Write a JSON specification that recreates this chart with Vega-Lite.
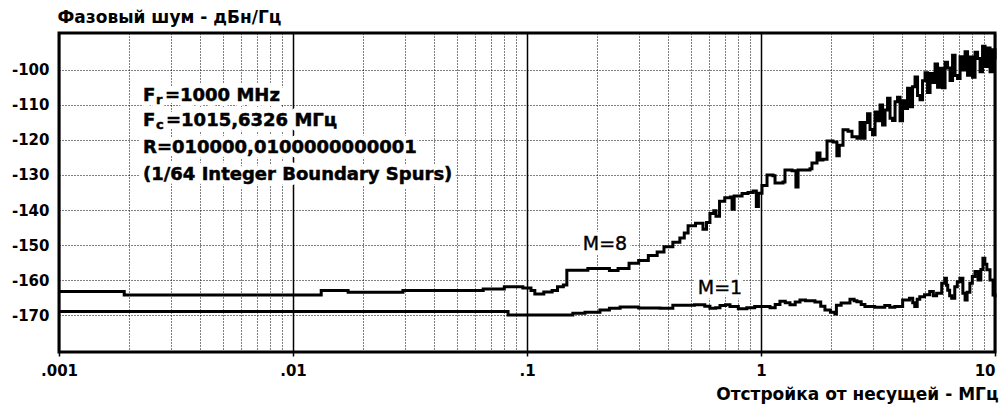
{
  "$schema": "https://vega.github.io/schema/vega-lite/v6.json",
  "width": 936,
  "height": 319,
  "autosize": {"type": "none"},
  "padding": {"left": 59, "top": 33, "right": 8, "bottom": 55},
  "background": "white",
  "config": {"view": {"stroke": "#000", "strokeWidth": 3}, "font": "DejaVu Sans"},
  "datasets": {
    "curves": [
      {"s": "M8", "f": 0.001, "db": -163.3},
      {"s": "M8", "f": 0.0019, "db": -164.3},
      {"s": "M8", "f": 0.0132, "db": -163.0},
      {"s": "M8", "f": 0.0172, "db": -163.5},
      {"s": "M8", "f": 0.0295, "db": -163.0},
      {"s": "M8", "f": 0.065, "db": -162.6},
      {"s": "M8", "f": 0.08, "db": -161.9},
      {"s": "M8", "f": 0.096, "db": -162.3},
      {"s": "M8", "f": 0.104, "db": -163.0},
      {"s": "M8", "f": 0.108, "db": -164.0},
      {"s": "M8", "f": 0.118, "db": -163.4},
      {"s": "M8", "f": 0.128, "db": -163.0},
      {"s": "M8", "f": 0.135, "db": -161.9},
      {"s": "M8", "f": 0.143, "db": -161.4},
      {"s": "M8", "f": 0.148, "db": -157.2},
      {"s": "M8", "f": 0.182, "db": -156.7},
      {"s": "M8", "f": 0.225, "db": -157.3},
      {"s": "M8", "f": 0.245, "db": -156.7},
      {"s": "M8", "f": 0.273, "db": -155.2},
      {"s": "M8", "f": 0.3, "db": -154.4},
      {"s": "M8", "f": 0.33, "db": -153.0},
      {"s": "M8", "f": 0.36, "db": -152.0},
      {"s": "M8", "f": 0.385, "db": -150.5},
      {"s": "M8", "f": 0.42, "db": -149.2},
      {"s": "M8", "f": 0.45, "db": -148.0},
      {"s": "M8", "f": 0.47, "db": -146.6},
      {"s": "M8", "f": 0.488, "db": -144.5},
      {"s": "M8", "f": 0.525, "db": -143.8},
      {"s": "M8", "f": 0.565, "db": -145.5},
      {"s": "M8", "f": 0.585, "db": -143.6},
      {"s": "M8", "f": 0.605, "db": -141.0},
      {"s": "M8", "f": 0.628, "db": -140.2},
      {"s": "M8", "f": 0.642, "db": -141.8},
      {"s": "M8", "f": 0.665, "db": -137.5},
      {"s": "M8", "f": 0.7, "db": -136.5},
      {"s": "M8", "f": 0.74, "db": -136.3},
      {"s": "M8", "f": 0.752, "db": -139.8},
      {"s": "M8", "f": 0.768, "db": -136.0},
      {"s": "M8", "f": 0.83, "db": -135.3},
      {"s": "M8", "f": 0.88, "db": -135.0},
      {"s": "M8", "f": 0.925, "db": -134.6},
      {"s": "M8", "f": 0.955, "db": -139.0},
      {"s": "M8", "f": 0.975, "db": -135.2},
      {"s": "M8", "f": 1.01, "db": -133.0},
      {"s": "M8", "f": 1.061, "db": -130.0},
      {"s": "M8", "f": 1.125, "db": -130.2},
      {"s": "M8", "f": 1.148, "db": -132.3},
      {"s": "M8", "f": 1.242, "db": -132.0},
      {"s": "M8", "f": 1.266, "db": -128.6},
      {"s": "M8", "f": 1.357, "db": -128.8},
      {"s": "M8", "f": 1.41, "db": -133.4},
      {"s": "M8", "f": 1.44, "db": -128.6},
      {"s": "M8", "f": 1.62, "db": -128.2},
      {"s": "M8", "f": 1.651, "db": -126.6},
      {"s": "M8", "f": 1.735, "db": -123.7},
      {"s": "M8", "f": 1.787, "db": -125.7},
      {"s": "M8", "f": 1.84, "db": -125.5},
      {"s": "M8", "f": 1.915, "db": -120.3},
      {"s": "M8", "f": 2.031, "db": -120.6},
      {"s": "M8", "f": 2.11, "db": -124.5},
      {"s": "M8", "f": 2.16, "db": -121.5},
      {"s": "M8", "f": 2.241, "db": -117.1},
      {"s": "M8", "f": 2.354, "db": -117.5},
      {"s": "M8", "f": 2.448, "db": -119.1},
      {"s": "M8", "f": 2.572, "db": -119.5},
      {"s": "M8", "f": 2.65, "db": -115.0},
      {"s": "M8", "f": 2.716, "db": -119.5},
      {"s": "M8", "f": 2.784, "db": -115.0},
      {"s": "M8", "f": 2.853, "db": -112.5},
      {"s": "M8", "f": 2.924, "db": -117.0},
      {"s": "M8", "f": 2.997, "db": -118.5},
      {"s": "M8", "f": 3.072, "db": -112.0},
      {"s": "M8", "f": 3.148, "db": -114.5},
      {"s": "M8", "f": 3.227, "db": -110.0},
      {"s": "M8", "f": 3.307, "db": -115.7},
      {"s": "M8", "f": 3.389, "db": -111.4},
      {"s": "M8", "f": 3.474, "db": -108.1},
      {"s": "M8", "f": 3.56, "db": -113.8},
      {"s": "M8", "f": 3.649, "db": -114.4},
      {"s": "M8", "f": 3.74, "db": -109.1},
      {"s": "M8", "f": 3.833, "db": -107.8},
      {"s": "M8", "f": 3.929, "db": -114.5},
      {"s": "M8", "f": 4.026, "db": -108.8},
      {"s": "M8", "f": 4.127, "db": -111.0},
      {"s": "M8", "f": 4.229, "db": -105.2},
      {"s": "M8", "f": 4.335, "db": -110.5},
      {"s": "M8", "f": 4.443, "db": -104.8},
      {"s": "M8", "f": 4.553, "db": -102.0},
      {"s": "M8", "f": 4.667, "db": -107.3},
      {"s": "M8", "f": 4.783, "db": -108.5},
      {"s": "M8", "f": 4.902, "db": -103.1},
      {"s": "M8", "f": 5.024, "db": -100.8},
      {"s": "M8", "f": 5.15, "db": -106.4},
      {"s": "M8", "f": 5.278, "db": -101.0},
      {"s": "M8", "f": 5.409, "db": -103.6},
      {"s": "M8", "f": 5.544, "db": -98.3},
      {"s": "M8", "f": 5.682, "db": -104.9},
      {"s": "M8", "f": 5.824, "db": -99.5},
      {"s": "M8", "f": 5.969, "db": -105.1},
      {"s": "M8", "f": 6.118, "db": -97.8},
      {"s": "M8", "f": 6.27, "db": -99.4},
      {"s": "M8", "f": 6.426, "db": -103.0},
      {"s": "M8", "f": 6.586, "db": -95.8},
      {"s": "M8", "f": 6.75, "db": -101.6},
      {"s": "M8", "f": 6.918, "db": -102.4},
      {"s": "M8", "f": 7.091, "db": -96.2},
      {"s": "M8", "f": 7.267, "db": -100.0},
      {"s": "M8", "f": 7.448, "db": -94.8},
      {"s": "M8", "f": 7.634, "db": -101.5},
      {"s": "M8", "f": 7.824, "db": -96.3},
      {"s": "M8", "f": 8.019, "db": -102.1},
      {"s": "M8", "f": 8.218, "db": -94.9},
      {"s": "M8", "f": 8.423, "db": -96.7},
      {"s": "M8", "f": 8.633, "db": -100.5},
      {"s": "M8", "f": 8.848, "db": -93.2},
      {"s": "M8", "f": 9.068, "db": -99.0},
      {"s": "M8", "f": 9.294, "db": -93.7},
      {"s": "M8", "f": 9.525, "db": -100.5},
      {"s": "M8", "f": 9.762, "db": -94.2},
      {"s": "M8", "f": 10.0, "db": -97.0},
      {"s": "M1", "f": 0.001, "db": -169.0},
      {"s": "M1", "f": 0.083, "db": -170.0},
      {"s": "M1", "f": 0.157, "db": -169.5},
      {"s": "M1", "f": 0.177, "db": -169.2},
      {"s": "M1", "f": 0.205, "db": -168.6},
      {"s": "M1", "f": 0.225, "db": -168.1},
      {"s": "M1", "f": 0.25, "db": -167.7},
      {"s": "M1", "f": 0.3, "db": -168.0},
      {"s": "M1", "f": 0.37, "db": -168.1},
      {"s": "M1", "f": 0.42, "db": -167.2},
      {"s": "M1", "f": 0.52, "db": -167.1},
      {"s": "M1", "f": 0.575, "db": -167.5},
      {"s": "M1", "f": 0.605, "db": -168.1},
      {"s": "M1", "f": 0.64, "db": -167.9},
      {"s": "M1", "f": 0.668, "db": -167.3},
      {"s": "M1", "f": 0.705, "db": -167.1},
      {"s": "M1", "f": 0.737, "db": -167.6},
      {"s": "M1", "f": 0.8, "db": -168.2},
      {"s": "M1", "f": 0.87, "db": -167.9},
      {"s": "M1", "f": 0.94, "db": -167.6},
      {"s": "M1", "f": 1.0, "db": -167.6},
      {"s": "M1", "f": 1.093, "db": -167.9},
      {"s": "M1", "f": 1.15, "db": -167.0},
      {"s": "M1", "f": 1.205, "db": -166.1},
      {"s": "M1", "f": 1.27, "db": -166.5},
      {"s": "M1", "f": 1.33, "db": -167.1},
      {"s": "M1", "f": 1.4, "db": -166.3},
      {"s": "M1", "f": 1.468, "db": -165.7},
      {"s": "M1", "f": 1.55, "db": -165.9},
      {"s": "M1", "f": 1.7, "db": -166.3},
      {"s": "M1", "f": 1.8, "db": -167.5},
      {"s": "M1", "f": 1.876, "db": -168.6},
      {"s": "M1", "f": 1.98, "db": -169.2},
      {"s": "M1", "f": 2.07, "db": -169.7},
      {"s": "M1", "f": 2.1, "db": -167.2},
      {"s": "M1", "f": 2.2, "db": -166.6},
      {"s": "M1", "f": 2.4, "db": -165.5},
      {"s": "M1", "f": 2.5, "db": -165.9},
      {"s": "M1", "f": 2.57, "db": -166.2},
      {"s": "M1", "f": 2.68, "db": -167.0},
      {"s": "M1", "f": 2.78, "db": -167.6},
      {"s": "M1", "f": 3.06, "db": -167.8},
      {"s": "M1", "f": 3.38, "db": -167.3},
      {"s": "M1", "f": 3.55, "db": -167.8},
      {"s": "M1", "f": 3.73, "db": -167.6},
      {"s": "M1", "f": 4.03, "db": -165.7},
      {"s": "M1", "f": 4.31, "db": -165.2},
      {"s": "M1", "f": 4.45, "db": -166.5},
      {"s": "M1", "f": 4.54, "db": -167.6},
      {"s": "M1", "f": 4.65, "db": -165.5},
      {"s": "M1", "f": 4.77, "db": -164.8},
      {"s": "M1", "f": 5.0, "db": -164.2},
      {"s": "M1", "f": 5.26, "db": -163.3},
      {"s": "M1", "f": 5.45, "db": -164.5},
      {"s": "M1", "f": 5.63, "db": -163.8},
      {"s": "M1", "f": 5.92, "db": -160.9},
      {"s": "M1", "f": 6.1, "db": -159.5},
      {"s": "M1", "f": 6.2, "db": -161.5},
      {"s": "M1", "f": 6.28, "db": -162.9},
      {"s": "M1", "f": 6.4, "db": -164.5},
      {"s": "M1", "f": 6.53, "db": -165.2},
      {"s": "M1", "f": 6.73, "db": -161.9},
      {"s": "M1", "f": 6.9, "db": -160.5},
      {"s": "M1", "f": 7.08, "db": -159.5},
      {"s": "M1", "f": 7.29, "db": -163.8},
      {"s": "M1", "f": 7.45, "db": -165.7},
      {"s": "M1", "f": 7.6, "db": -163.5},
      {"s": "M1", "f": 7.81, "db": -160.9},
      {"s": "M1", "f": 8.0, "db": -159.0},
      {"s": "M1", "f": 8.21, "db": -157.6},
      {"s": "M1", "f": 8.46, "db": -160.0},
      {"s": "M1", "f": 8.7, "db": -157.0},
      {"s": "M1", "f": 8.88, "db": -153.8},
      {"s": "M1", "f": 9.05, "db": -155.5},
      {"s": "M1", "f": 9.23, "db": -157.1},
      {"s": "M1", "f": 9.52, "db": -160.0},
      {"s": "M1", "f": 9.81, "db": -164.3},
      {"s": "M1", "f": 10.0, "db": -165.0}
    ],
    "mlabels": [
      {"f": 0.2154, "db": -149.7, "t": "M=8"},
      {"f": 0.668, "db": -162.3, "t": "M=1"}
    ],
    "notes": [
      {"f": 0.002286, "db": -107.43, "t": "F", "k": "main"},
      {"f": 0.002598, "db": -108.6, "t": "r", "k": "sub"},
      {"f": 0.002837, "db": -107.43, "t": "=1000 MHz", "k": "main"},
      {"f": 0.002286, "db": -114.71, "t": "F", "k": "main"},
      {"f": 0.002598, "db": -115.85, "t": "c", "k": "sub"},
      {"f": 0.002866, "db": -114.71, "t": "=1015,6326 МГц", "k": "main"},
      {"f": 0.002286, "db": -122.29, "t": "R=010000,0100000000001", "k": "main"},
      {"f": 0.002286, "db": -130.14, "t": "(1/64 Integer Boundary Spurs)", "k": "main"}
    ]
  },
  "encoding": {
    "x": {
      "field": "f",
      "type": "quantitative",
      "scale": {"type": "log", "domain": [0.001, 10], "nice": false},
      "axis": {
        "values": [0.001, 0.002, 0.003, 0.004, 0.005, 0.006, 0.007, 0.008, 0.009, 0.01, 0.02, 0.03, 0.04, 0.05, 0.06, 0.07, 0.08, 0.09, 0.1, 0.2, 0.3, 0.4, 0.5, 0.6, 0.7, 0.8, 0.9, 1, 2, 3, 4, 5, 6, 7, 8, 9, 10],
        "labelExpr": "datum.value == 0.001 ? '.001' : datum.value == 0.01 ? '.01' : datum.value == 0.1 ? '.1' : datum.value == 1 ? '1' : datum.value == 10 ? '10' : ''",
        "labelFont": "DejaVu Sans",
        "labelFontSize": 15,
        "labelFontWeight": "bold",
        "labelColor": "#000",
        "labelPadding": 7,
        "labelOverlap": false,
        "labelBound": false,
        "labelFlush": false,
        "labelAlign": {"condition": {"test": "datum.value == 10", "value": "right"}, "value": "center"},
        "domain": false,
        "ticks": true,
        "tickSize": 4,
        "tickColor": "#000",
        "tickWidth": 1.5,
        "tickOpacity": {"condition": {"test": "indexof([0.001, 0.01, 0.1, 1, 10], datum.value) >= 0", "value": 1}, "value": 0},
        "grid": true,
        "gridColor": "#000",
        "gridDash": {"condition": {"test": "indexof([0.001, 0.01, 0.1, 1, 10], datum.value) >= 0", "value": []}, "value": [1, 2]},
        "gridWidth": {"condition": {"test": "indexof([0.001, 0.01, 0.1, 1, 10], datum.value) >= 0", "value": 1.5}, "value": 1},
        "gridOpacity": 1,
        "title": "Отстройка от несущей - МГц",
        "titleFont": "DejaVu Sans",
        "titleFontSize": 17,
        "titleFontWeight": "bold",
        "titleColor": "#000",
        "titleAlign": "right",
        "titleBaseline": "alphabetic",
        "titleX": 939,
        "titleY": 47
      }
    },
    "y": {
      "field": "db",
      "type": "quantitative",
      "scale": {"domain": [-180.57, -89.43], "nice": false, "zero": false},
      "axis": {
        "values": [-170, -160, -150, -140, -130, -120, -110, -100],
        "labelExpr": "'-' + abs(datum.value)",
        "labelFont": "DejaVu Sans",
        "labelFontSize": 15,
        "labelFontWeight": "bold",
        "labelColor": "#000",
        "labelPadding": 10,
        "ticks": false,
        "domain": false,
        "grid": true,
        "gridColor": "#000",
        "gridDash": [1, 2],
        "gridWidth": 1,
        "gridOpacity": 1,
        "title": "Фазовый шум - дБн/Гц",
        "titleFont": "DejaVu Sans",
        "titleFontSize": 17,
        "titleFontWeight": "bold",
        "titleColor": "#000",
        "titleAngle": 0,
        "titleAlign": "left",
        "titleBaseline": "alphabetic",
        "titleX": -2,
        "titleY": -11
      }
    }
  },
  "layer": [
    {
      "data": {"name": "curves"},
      "mark": {"type": "line", "interpolate": "step-after", "color": "#000", "strokeWidth": 3, "strokeJoin": "miter"},
      "encoding": {"detail": {"field": "s", "type": "nominal"}}
    },
    {
      "data": {"name": "notes"},
      "mark": {"type": "text", "align": "left", "baseline": "middle", "font": "DejaVu Sans", "fontWeight": "bold", "fill": "white", "stroke": "white", "strokeWidth": 10, "strokeJoin": "round"},
      "encoding": {
        "text": {"field": "t"},
        "size": {"field": "k", "type": "nominal", "scale": {"domain": ["main", "sub"], "range": [18, 13]}, "legend": null}
      }
    },
    {
      "data": {"name": "notes"},
      "mark": {"type": "text", "align": "left", "baseline": "middle", "font": "DejaVu Sans", "fontWeight": "bold", "fill": "#000", "stroke": "#000", "strokeWidth": 0.5},
      "encoding": {
        "text": {"field": "t"},
        "size": {"field": "k", "type": "nominal", "scale": {"domain": ["main", "sub"], "range": [18, 13]}, "legend": null}
      }
    },
    {
      "data": {"name": "mlabels"},
      "mark": {"type": "text", "align": "center", "baseline": "middle", "font": "DejaVu Sans", "fontSize": 19, "fill": "white", "stroke": "white", "strokeWidth": 9, "strokeJoin": "round"},
      "encoding": {"text": {"field": "t"}}
    },
    {
      "data": {"name": "mlabels"},
      "mark": {"type": "text", "align": "center", "baseline": "middle", "font": "DejaVu Sans", "fontSize": 19, "fill": "#000", "stroke": "#000", "strokeWidth": 0.4},
      "encoding": {"text": {"field": "t"}}
    }
  ]
}
